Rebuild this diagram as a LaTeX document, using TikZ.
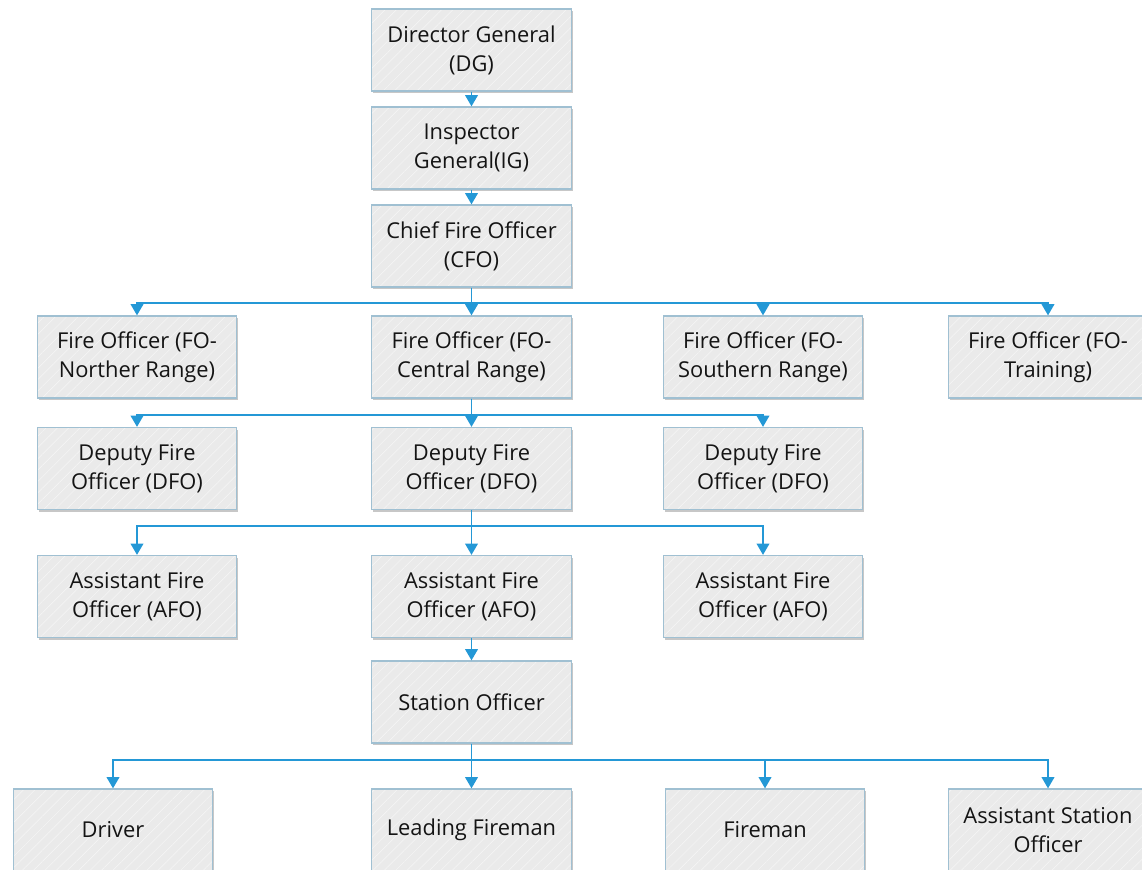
\documentclass[tikz,border=0pt]{standalone}
\usepackage{fontspec}
\setmainfont{Open Sans}
\usetikzlibrary{arrows.meta,shadows,patterns.meta}
\definecolor{linkblue}{RGB}{36,152,214}
\definecolor{boxfill}{RGB}{234,234,234}
\definecolor{boxline}{RGB}{160,192,210}
\definecolor{hatch}{RGB}{244,244,244}
\tikzset{
  orgbox/.style={
    drop shadow={shadow xshift=1.2pt,shadow yshift=-1.8pt,opacity=0.22,fill=black},
    preaction={fill=boxfill},
    pattern={Lines[angle=45,distance=6pt,line width=0.5pt]},
    pattern color=hatch,
    draw=boxline, line width=0.9pt,
    minimum width=149.5pt, minimum height=61.5pt, inner sep=0pt,
    align=center, font=\fontsize{16.4pt}{21.75pt}\selectfont, text=black!92},
  link/.style={draw=linkblue, line width=1.4pt,
    -{Triangle[width=9.5pt,length=8.5pt]}}
}
\begin{document}
\begin{tikzpicture}[x=0.75pt,y=-0.75pt]
\useasboundingbox (0,0) rectangle (1142,870);

% chain of command at the top
\node[orgbox] (dg)  at (471.5,50)  {Director General\\(DG)};
\node[orgbox] (ig)  at (471.5,148) {Inspector\\General(IG)};
\node[orgbox] (cfo) at (471.5,246) {Chief Fire Officer\\(CFO)};

% fire officers
\node[orgbox] (fon) at (137,357)    {Fire Officer (FO-\\Norther Range)};
\node[orgbox] (foc) at (471.5,357)  {Fire Officer (FO-\\Central Range)};
\node[orgbox] (fos) at (763,357)    {Fire Officer (FO-\\Southern Range)};
\node[orgbox] (fot) at (1048,357)   {Fire Officer (FO-\\Training)};

% deputy fire officers
\node[orgbox] (dfo1) at (137,468.5)   {Deputy Fire\\Officer (DFO)};
\node[orgbox] (dfo2) at (471.5,468.5) {Deputy Fire\\Officer (DFO)};
\node[orgbox] (dfo3) at (763,468.5)   {Deputy Fire\\Officer (DFO)};

% assistant fire officers
\node[orgbox] (afo1) at (137,596.5)   {Assistant Fire\\Officer (AFO)};
\node[orgbox] (afo2) at (471.5,596.5) {Assistant Fire\\Officer (AFO)};
\node[orgbox] (afo3) at (763,596.5)   {Assistant Fire\\Officer (AFO)};

\node[orgbox] (so) at (471.5,702) {Station Officer};

% station staff
\node[orgbox] (drv) at (113,830)    {Driver};
\node[orgbox] (lf)  at (471.5,830)  {Leading Fireman};
\node[orgbox] (fm)  at (765,830)    {Fireman};
\node[orgbox] (aso) at (1048,830)   {Assistant Station\\Officer};

% bus levels
\coordinate (b1) at (0,303);
\coordinate (b2) at (0,415);
\coordinate (b3) at (0,526);
\coordinate (b4) at (0,760);

\draw[link] (dg) -- (ig);
\draw[link] (ig) -- (cfo);

\draw[link] (cfo.south) -- (cfo.south |- b1) -| (fon.north);
\draw[link] (cfo.south) -- (foc.north);
\draw[link] (cfo.south |- b1) -| (fos.north);
\draw[link] (cfo.south |- b1) -| (fot.north);

\draw[link] (foc.south) -- (foc.south |- b2) -| (dfo1.north);
\draw[link] (foc.south) -- (dfo2.north);
\draw[link] (foc.south |- b2) -| (dfo3.north);

\draw[link] (dfo2.south) -- (dfo2.south |- b3) -| (afo1.north);
\draw[link] (dfo2.south) -- (afo2.north);
\draw[link] (dfo2.south |- b3) -| (afo3.north);

\draw[link] (afo2) -- (so);

\draw[link] (so.south) -- (so.south |- b4) -| (drv.north);
\draw[link] (so.south) -- (lf.north);
\draw[link] (so.south |- b4) -| (fm.north);
\draw[link] (so.south |- b4) -| (aso.north);
\end{tikzpicture}
\end{document}
